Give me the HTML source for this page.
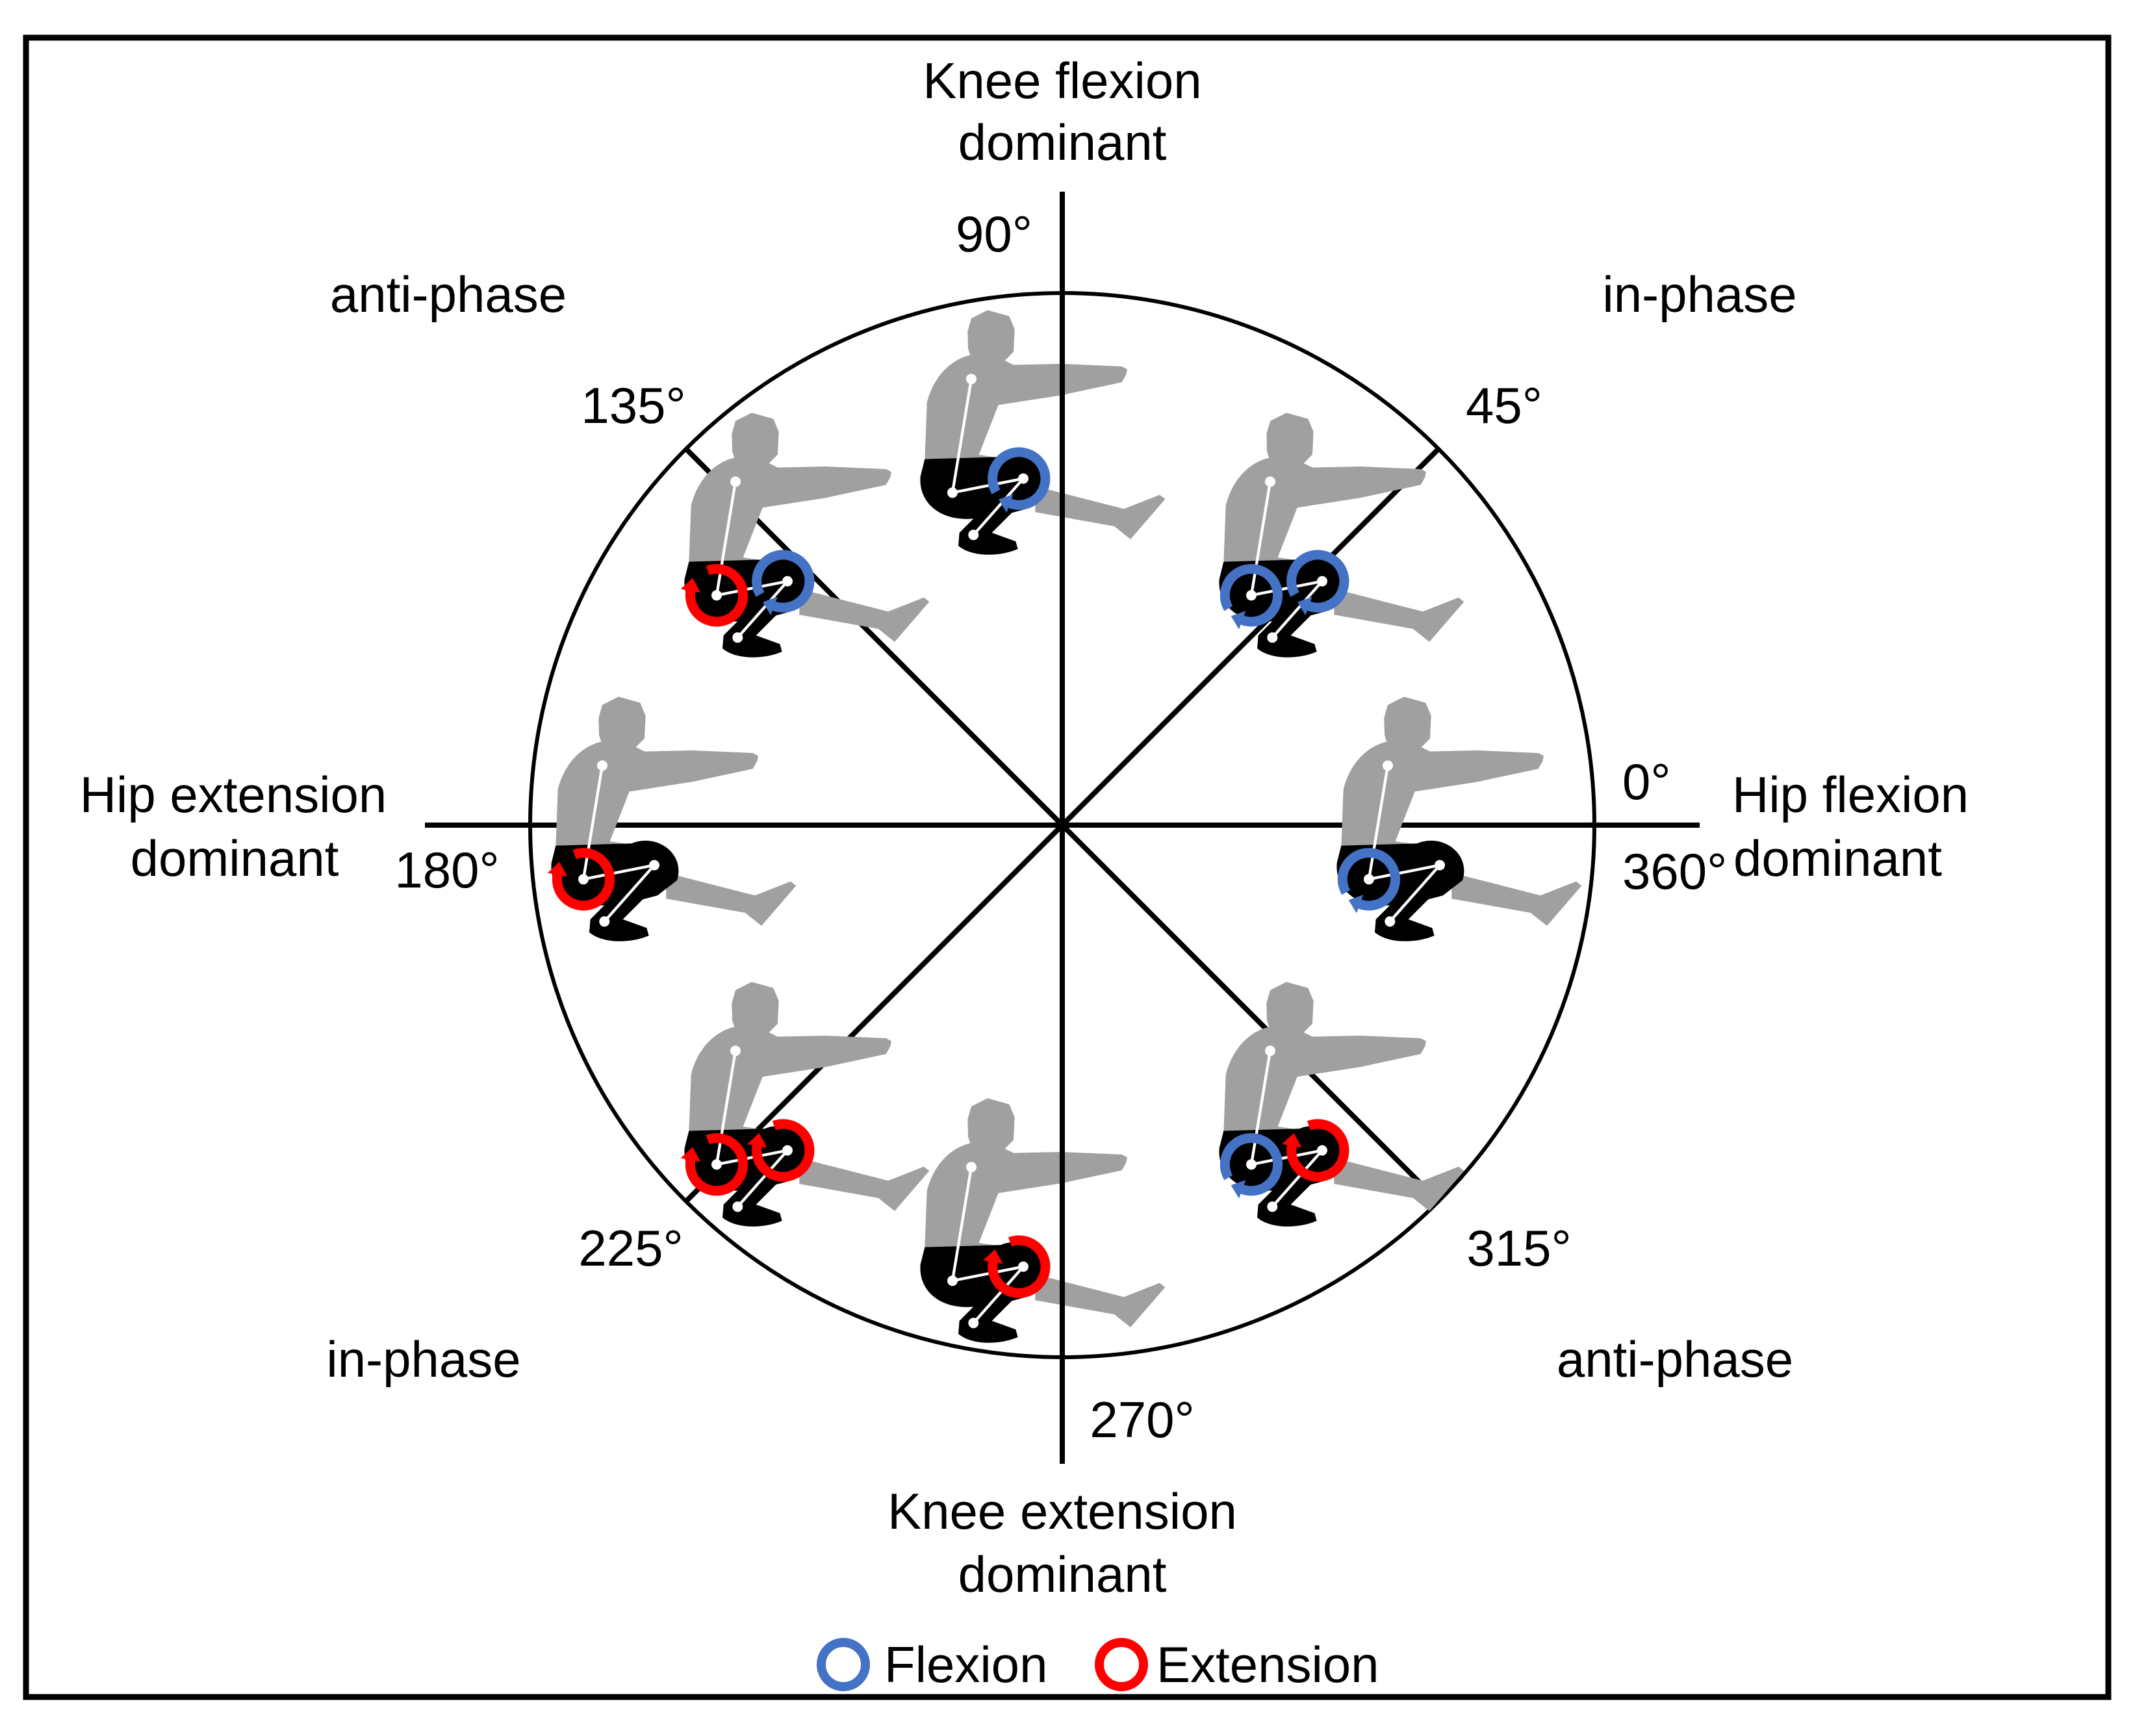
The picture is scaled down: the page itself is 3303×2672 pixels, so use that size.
<!DOCTYPE html>
<html><head><meta charset="utf-8"><style>
html,body{margin:0;padding:0;background:#fff;}
svg{display:block;}
text{font-family:"Liberation Sans",Arial,sans-serif;font-size:78px;fill:#000;}
</style></head><body>
<svg width="3303" height="2672" viewBox="0 0 3303 2672" xmlns="http://www.w3.org/2000/svg">
<defs>
<symbol id="fig" viewBox="0 0 1500 1350">
  <path fill="#a0a0a0" d="M340,320 C250,340 170,420 140,540 L130,805 L480,795 L380,780 L470,550 L760,505 L1040,445 L1060,410 L1065,385 L1040,372 L760,360 L540,365 L500,345 L540,305 L545,200 L520,140 L420,112 L345,150 L328,210 L330,290 Z"/>
  <path fill="#a0a0a0" d="M640,925 L1050,1030 L1215,965 L1240,985 L1080,1170 L1005,1110 L640,1045 Z"/>
  <path fill="#000" d="M130,800 L480,790 C600,740 730,840 690,960 L600,1030 L450,1070 L360,1075 C200,1090 100,1000 110,880 Z"/>
  <path fill="#000" d="M370,1060 L290,1140 L285,1200 C350,1255 480,1250 560,1215 L550,1180 L440,1140 L540,1040 Z"/>
  <g stroke="#fff" stroke-width="13" fill="none"><polyline points="345,430 258,955 585,890 355,1150"/></g>
  <g fill="#fff"><circle cx="345" cy="430" r="24"/><circle cx="258" cy="955" r="24"/><circle cx="585" cy="890" r="24"/><circle cx="355" cy="1150" r="24"/></g>
</symbol>
<g id="blue">
  <path d="M-105.7,61 A122,122 0 1 1 -41.7,114.6" fill="none" stroke="#4472C4" stroke-width="45"/>
  <polygon points="-94,96 -57,157 -26,72" fill="#4472C4"/>
</g>
<g id="red">
  <path d="M-41.7,-114.6 A122,122 0 1 1 -120.1,-21.2" fill="none" stroke="#FF0000" stroke-width="45"/>
  <polygon points="-111,-80 -166,-29 -74,-13" fill="#FF0000"/>
</g>
</defs>
<rect x="40" y="58" width="3205" height="2554" fill="none" stroke="#000" stroke-width="9"/>
<circle cx="1635" cy="1270" r="819" fill="none" stroke="#000" stroke-width="6"/>
<g stroke="#000" stroke-width="8">
  <line x1="654" y1="1270" x2="2616" y2="1270"/>
  <line x1="1056" y1="691" x2="2214" y2="1849"/>
  <line x1="2214" y1="691" x2="1056" y2="1849"/>
</g>

<g transform="translate(1380,440) scale(0.3333)"><use href="#fig" width="1500" height="1350"/><use href="#blue" transform="translate(565,890)"/></g>
<g transform="translate(1017,598) scale(0.3333)"><use href="#fig" width="1500" height="1350"/><use href="#red" transform="translate(258,955)"/><use href="#blue" transform="translate(565,890)"/></g>
<g transform="translate(1840,598) scale(0.3333)"><use href="#fig" width="1500" height="1350"/><use href="#blue" transform="translate(258,955)"/><use href="#blue" transform="translate(565,890)"/></g>
<g transform="translate(812,1035) scale(0.3333)"><use href="#fig" width="1500" height="1350"/><use href="#red" transform="translate(258,955)"/></g>
<g transform="translate(2021,1035) scale(0.3333)"><use href="#fig" width="1500" height="1350"/><use href="#blue" transform="translate(258,955)"/></g>
<g transform="translate(1017,1474) scale(0.3333)"><use href="#fig" width="1500" height="1350"/><use href="#red" transform="translate(258,955)"/><use href="#red" transform="translate(565,890)"/></g>
<g transform="translate(1840,1474) scale(0.3333)"><use href="#fig" width="1500" height="1350"/><use href="#blue" transform="translate(258,955)"/><use href="#red" transform="translate(565,890)"/></g>
<g transform="translate(1380,1653) scale(0.3333)"><use href="#fig" width="1500" height="1350"/><use href="#red" transform="translate(565,890)"/></g>

<line x1="1635" y1="295" x2="1635" y2="2253" stroke="#000" stroke-width="8"/>

<g text-anchor="middle">
<text x="1635" y="151">Knee flexion</text>
<text x="1635" y="246">dominant</text>
<text x="1530" y="387">90°</text>
<text x="690" y="480">anti-phase</text>
<text x="2616" y="480">in-phase</text>
<text x="975" y="651">135°</text>
<text x="2315" y="651">45°</text>
<text x="359" y="1250">Hip extension</text>
<text x="361" y="1348">dominant</text>
<text x="688" y="1366">180°</text>
<text x="971" y="1948">225°</text>
<text x="2338" y="1948">315°</text>
<text x="652" y="2119">in-phase</text>
<text x="2578" y="2119">anti-phase</text>
<text x="1758" y="2212">270°</text>
<text x="1635" y="2353">Knee extension</text>
<text x="1635" y="2450">dominant</text>
</g>
<text x="2497" y="1230">0°</text>
<text x="2497" y="1368">360°</text>
<text x="2666" y="1250">Hip flexion</text>
<text x="2668" y="1348">dominant</text>

<circle cx="1298" cy="2562" r="34" fill="none" stroke="#4472C4" stroke-width="14"/>
<text x="1361" y="2589">Flexion</text>
<circle cx="1726" cy="2562" r="34" fill="none" stroke="#FF0000" stroke-width="14"/>
<text x="1780" y="2589">Extension</text>
</svg>
</body></html>
